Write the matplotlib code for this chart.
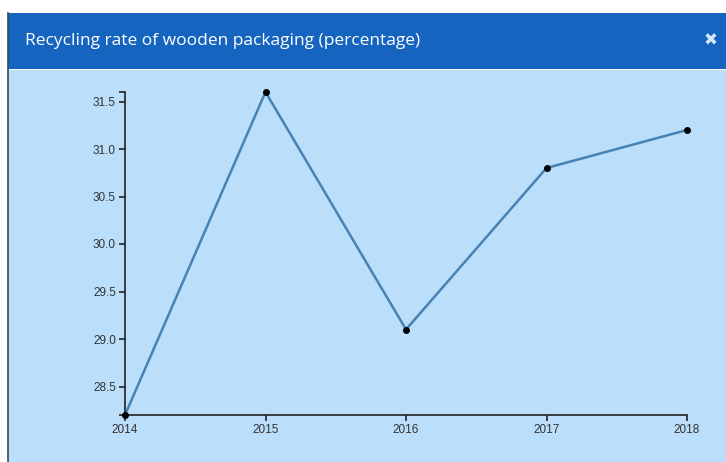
import matplotlib
matplotlib.use("Agg")
import matplotlib.pyplot as plt
from matplotlib.patches import Rectangle
from matplotlib.lines import Line2D

title = "Recycling rate of wooden packaging (percentage)"
years = [2014, 2015, 2016, 2017, 2018]
rates = [28.2, 31.6, 29.1, 30.8, 31.2]
yticks = [28.5, 29.0, 29.5, 30.0, 30.5, 31.0, 31.5]
ylim = (28.2, 31.6)

W, H = 726, 462
fig = plt.figure(figsize=(W / 100, H / 100), dpi=100)
fig.patch.set_facecolor("white")

# panel background
fig.add_artist(Rectangle((8 / W, 0), 1 - 8 / W, (H - 70) / H, transform=fig.transFigure,
                         facecolor="#BBDEFB", edgecolor="none", zorder=0))
# header
fig.add_artist(Rectangle((8 / W, (H - 69) / H), 1 - 8 / W, 56 / H, transform=fig.transFigure,
                         facecolor="#1565C0", edgecolor="none", zorder=0))
# left border line
fig.add_artist(Line2D([7.5 / W, 7.5 / W], [0, (H - 13) / H], transform=fig.transFigure,
                      color="#3a4a5a", lw=1.2, zorder=1))
fig.text(25 / W, (H - 41) / H, title, color="white", fontsize=12.5,
         family="Open Sans", va="center", ha="left")
fig.text(711 / W, (H - 41) / H, "\u2716", color="#d6e6f7", fontsize=12,
         family="DejaVu Sans", va="center", ha="center")

ax = fig.add_axes([125 / W, (H - 415) / H, (687 - 125) / W, (415 - 92) / H])
ax.patch.set_alpha(0)
ax.plot(years, rates, color="#4682B4", lw=1.8, zorder=2)
ax.plot(years, rates, "o", color="black", ms=4.0, zorder=3, clip_on=False)

ax.set_xlim(years[0], years[-1])
ax.set_ylim(*ylim)
ax.set_xticks(years)
ax.set_xticklabels([str(y) for y in years])
ax.set_yticks(yticks)
ax.set_yticklabels([f"{v:.1f}" for v in yticks])
ax.set_yticks([ylim[0], ylim[1]], minor=True)

for s in ["top", "right"]:
    ax.spines[s].set_visible(False)
for s in ["left", "bottom"]:
    ax.spines[s].set_color("#222222")
    ax.spines[s].set_linewidth(1.2)
ax.tick_params(axis="both", which="both", length=4.5, width=1.2, color="#222222",
               labelsize=8.5, labelcolor="#333333", pad=2)
ax.tick_params(axis="y", which="minor", labelleft=False)
for lab in ax.get_xticklabels() + ax.get_yticklabels():
    lab.set_family("Liberation Sans")

fig.savefig("out.png", dpi=100)
